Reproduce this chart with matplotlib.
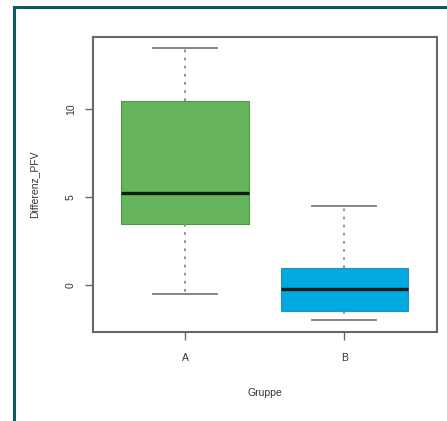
import matplotlib
matplotlib.use('Agg')
import matplotlib.pyplot as plt
from matplotlib.patches import Rectangle

plt.rcParams['font.family'] = ['Liberation Sans', 'DejaVu Sans']

# Daten
gruppen = ['A', 'B']
whisker_unten = [-0.5, -2.0]
q1 = [3.47, -1.48]
median = [5.24, -0.25]
q3 = [10.47, 0.98]
whisker_oben = [13.45, 4.47]
farben = ['#66b55d', '#00a9e2']
rand_farben = ['#4a9a45', '#2d8fb8']

stats = []
for i, g in enumerate(gruppen):
    stats.append({'label': g, 'whislo': whisker_unten[i], 'q1': q1[i], 'med': median[i],
                  'q3': q3[i], 'whishi': whisker_oben[i], 'fliers': []})

fig = plt.figure(figsize=(4.47, 4.21), dpi=100)
ax = fig.add_axes([0.2074, 0.2121, 0.7696, 0.6993])

bp = ax.bxp(stats, positions=[1, 2], widths=0.8, patch_artist=True,
            showfliers=False,
            boxprops=dict(linewidth=0.8),
            whiskerprops=dict(color='#8a8a8a', linestyle=(0, (1.5, 3)), linewidth=1.3),
            capprops=dict(color='#7a7a7a', linewidth=1.3),
            medianprops=dict(color='#0b1f14', linewidth=2.4))
for box, f, r in zip(bp['boxes'], farben, rand_farben):
    box.set_facecolor(f)
    box.set_edgecolor(r)
for cap in bp['caps']:
    x0, x1 = cap.get_xdata()
    m = (x0 + x1) / 2
    cap.set_xdata([m - 0.2, m + 0.2])

ax.set_xlim(0.42, 2.58)
ax.set_ylim(-2.65, 14.07)
ax.set_yticks([0, 5, 10])
ax.set_yticklabels(['0', '5', '10'], rotation=90, va='center')
for s in ax.spines.values():
    s.set_color('#6a6470')
    s.set_linewidth(1.5)
ax.tick_params(axis='both', colors='#6a6470', labelcolor='#333333', labelsize=7.5,
               length=6, width=1)
ax.tick_params(axis='y', pad=6)
ax.tick_params(axis='x', pad=9)
ax.set_ylabel('Differenz_PFV', fontsize=7.5, color='#333333', labelpad=19)
ax.set_xlabel('Gruppe', fontsize=7.5, color='#333333', labelpad=18)

# Rahmen um die Grafik
fig.patches.append(Rectangle((0.031, -0.1), 1.2, 1.0826, transform=fig.transFigure,
                             fill=False, edgecolor='#0d5a62', linewidth=2.2))

fig.savefig('out.png', dpi=100)
